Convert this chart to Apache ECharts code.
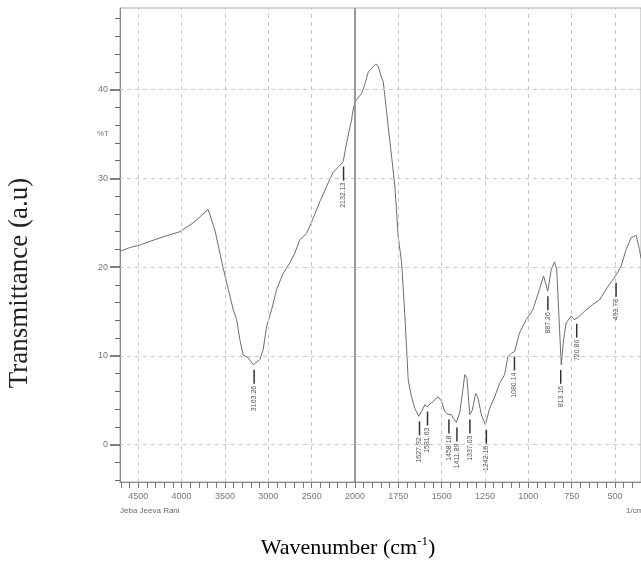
<!DOCTYPE html>
<html>
<head>
<meta charset="utf-8">
<script src="https://cdn.jsdelivr.net/npm/echarts@6/dist/echarts.min.js"></script>
<style>
html,body{margin:0;padding:0;background:#fff;}
#chart{width:641px;height:571px;}
</style>
</head>
<body>
<div id="chart"></div>
<script>
// spectrum: [wavenumber 1/cm, %T]
var spectrum=[
	[4710,21.8],[4600,22.2],[4480,22.5],[4250,23.3],[4020,24.0],[3866,25.0],[3693,26.5],[3670,26.3],
	[3616,24.2],[3520,19.9],[3404,15.2],[3365,14.1],[3327,11.8],[3289,10.1],[3232,9.8],[3174,9.0],
	[3097,9.6],[3059,10.7],[3020,13.3],[2962,15.2],[2904,17.5],[2828,19.3],[2751,20.5],[2693,21.6],
	[2636,23.1],[2558,23.8],[2500,25.1],[2405,27.4],[2328,29.1],[2252,30.7],[2180,31.4],[2136,31.9],
	[2097,34.0],[2040,36.6],[2021,37.8],[2000,38.6],
	[1990,38.9],[1961,39.6],[1942,40.7],[1923,42.0],[1895,42.6],[1880,42.9],[1866,42.6],[1846,41.3],
	[1837,40.9],[1808,35.8],[1789,32.5],[1770,29.1],[1751,23.5],[1731,20.5],[1712,14.5],[1693,7.3],
	[1674,5.4],[1655,4.1],[1632,3.2],[1616,3.75],[1597,4.5],[1584,4.3],[1559,4.7],[1521,5.4],
	[1501,4.9],[1482,3.75],[1463,3.4],[1444,3.4],[1434,3.0],[1415,2.5],[1396,3.6],[1380,5.8],
	[1367,7.9],[1354,7.5],[1338,3.4],[1323,3.9],[1304,5.8],[1291,5.3],[1271,3.4],[1248,2.25],
	[1223,4.1],[1194,5.4],[1166,6.9],[1137,7.9],[1118,9.9],[1098,10.3],[1079,10.5],[1051,12.6],
	[1012,14.1],[974,15.2],[936,17.5],[912,19.0],[888,17.3],[868,19.7],[849,20.6],[836,19.7],
	[820,13.0],[810,9.0],[797,11.8],[782,13.7],[753,14.5],[734,14.1],[715,14.3],[667,15.2],
	[628,15.8],[590,16.3],[542,17.8],[504,18.8],[465,20.1],[436,22.0],[407,23.3],[378,23.6],
	[359,22.0],[350,21.0]
];

// peak picks
var peakLabels=['3163.26','2132.13','1627.92','1581.63','1458.18','1411.89','1337.03','1242.16','1080.14','887.26','813.16','720.80','493.78'];
var peakT=[9.0,31.9,3.2,4.3,3.4,2.5,3.4,2.25,10.5,17.3,9.0,14.2,18.8];

// axis ticks
var yLabels=[0,10,20,30,40];
var yMinor=[-4,-2,2,4,6,8,12,14,16,18,22,24,26,28,32,34,36,38,42,44,46,48];
var xLabelsHigh=[4500,4000,3500,3000,2500];
var xLabelsLow=[2000,1750,1500,1250,1000,750,500];
var xTicksHigh=[4700,4600,4500,4400,4300,4200,4100,4000,3900,3800,3700,3600,3500,3400,3300,3200,3100,3000,2900,2800,2700,2600,2500,2400,2300,2200,2100];
var xTicksLow=[2000,1950,1900,1850,1800,1750,1700,1650,1600,1550,1500,1450,1400,1350,1300,1250,1200,1150,1100,1050,1000,950,900,850,800,750,700,650,600,550,500,450,400];

var yMin=-4.2, yMax=49.2;

var chart=echarts.init(document.getElementById('chart'));

var highPart=spectrum.filter(function(d){return d[0]>=2000;});
var lowPart=spectrum.filter(function(d){return d[0]<=2000;});

var peaksHigh=[], peaksLow=[];
for(var i=0;i<peakLabels.length;i++){
	var w=parseFloat(peakLabels[i]);
	var item={value:[w,peakT[i]],name:peakLabels[i]};
	if(w>=2000) peaksHigh.push(item); else peaksLow.push(item);
}

var gridLine={type:[4,4],color:'#c8c8c8',width:1};
var plain=function(v){return String(v);};

function markGrid(xs){
	var d=yLabels.map(function(v){return {yAxis:v};});
	xs.forEach(function(v){d.push({xAxis:v});});
	return {silent:true,symbol:['none','none'],label:{show:false},lineStyle:gridLine,animation:false,data:d};
}

function peakRender(list){
	return function(params,api){
		var p=api.coord([api.value(0),api.value(1)]);
		return {type:'group',children:[
			{type:'line',shape:{x1:p[0],y1:p[1]+5,x2:p[0],y2:p[1]+19},style:{stroke:'#333',lineWidth:1.5}},
			{type:'text',x:p[0],y:p[1]+21,rotation:Math.PI/2,
				style:{text:list[params.dataIndex].name,fontSize:7,fontFamily:'Arial',fill:'#555',align:'right',verticalAlign:'middle'}}
		]};
	};
}

var option={
	backgroundColor:'#ffffff',
	animation:false,
	grid:[
		{left:120,top:8,width:235,height:474,show:true,borderColor:'#aaa',borderWidth:1},
		{left:355,top:8,width:287,height:474,show:true,borderColor:'#aaa',borderWidth:1}
	],
	xAxis:[
		{type:'value',gridIndex:0,min:2000,max:4710,inverse:true,
			axisLine:{onZero:false,lineStyle:{color:'#888'}},
			axisTick:{customValues:xTicksHigh,length:6,lineStyle:{color:'#777'}},
			axisLabel:{customValues:xLabelsHigh,formatter:plain,fontSize:9,color:'#777',margin:10},
			splitLine:{show:false}},
		{type:'value',gridIndex:1,min:350,max:2000,inverse:true,
			axisLine:{onZero:false,lineStyle:{color:'#888'}},
			axisTick:{customValues:xTicksLow,length:6,lineStyle:{color:'#777'}},
			axisLabel:{customValues:xLabelsLow,formatter:plain,fontSize:9,color:'#777',margin:10},
			splitLine:{show:false}}
	],
	yAxis:[
		{type:'value',gridIndex:0,min:yMin,max:yMax,position:'left',
			axisLine:{show:true,onZero:false,lineStyle:{color:'#888'}},
			axisTick:{customValues:yLabels,length:10,lineStyle:{color:'#555',width:1.5}},
			axisLabel:{customValues:yLabels,fontSize:9,color:'#6a7890',margin:12},
			splitLine:{show:false}},
		{type:'value',gridIndex:0,min:yMin,max:yMax,position:'left',offset:0,
			axisLine:{show:false,onZero:false},
			axisTick:{customValues:yMinor,length:5,lineStyle:{color:'#666'}},
			axisLabel:{show:false},splitLine:{show:false}},
		{type:'value',gridIndex:1,min:yMin,max:yMax,show:false}
	],
	series:[
		{type:'line',xAxisIndex:0,yAxisIndex:0,data:highPart,symbol:'none',
			lineStyle:{color:'#6e6e6e',width:1},markLine:markGrid(xLabelsHigh)},
		{type:'line',xAxisIndex:1,yAxisIndex:2,data:lowPart,symbol:'none',
			lineStyle:{color:'#6e6e6e',width:1},
			markLine:(function(){var m=markGrid(xLabelsLow.slice(1));
				m.data.push({xAxis:2000,lineStyle:{type:'solid',color:'#999',width:2}});return m;})()},
		{type:'custom',xAxisIndex:0,yAxisIndex:0,data:peaksHigh,renderItem:peakRender(peaksHigh),z:5},
		{type:'custom',xAxisIndex:1,yAxisIndex:2,data:peaksLow,renderItem:peakRender(peaksLow),z:5}
	],
	graphic:[
		{type:'text',left:97,top:130,style:{text:'%T',fontSize:8,fontFamily:'Arial',fill:'#6a7890'}},
		{type:'text',left:120,top:507,style:{text:'Jeba Jeeva Rani',fontSize:8,fontFamily:'Arial',fill:'#666'}},
		{type:'text',left:626,top:507,style:{text:'1/cm',fontSize:8,fontFamily:'Arial',fill:'#666'}},
		{type:'text',x:20,y:283,rotation:Math.PI/2,
			style:{text:'Transmittance (a.u)',font:'27px "Liberation Serif"',fill:'#222',align:'center',verticalAlign:'middle'}},
		{type:'text',x:348,y:548,
			style:{text:'{a|Wavenumber (cm}{b|-1}{a|)}',align:'center',verticalAlign:'middle',
				rich:{a:{fontFamily:'Liberation Serif',fontSize:22,color:'#222',lineHeight:26},
					b:{fontFamily:'Liberation Serif',fontSize:13,color:'#222',verticalAlign:'top',lineHeight:26}}}}
	]
};
chart.setOption(option);
</script>
</body>
</html>
